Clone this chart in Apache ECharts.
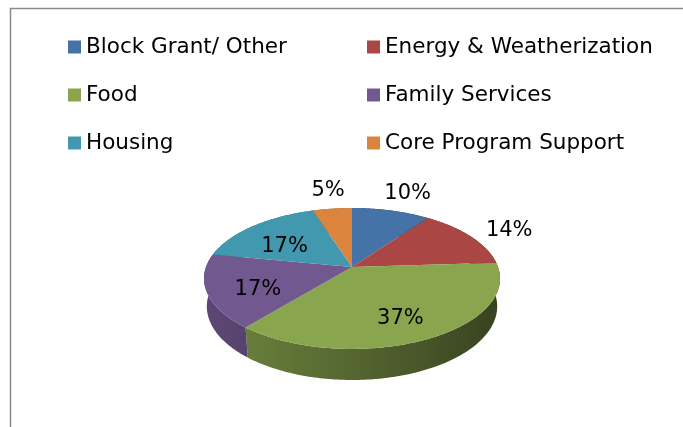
<!DOCTYPE html>
<html>
<head>
<meta charset="utf-8">
<script src="https://cdn.jsdelivr.net/npm/echarts@6/dist/echarts.min.js"></script>
<style>
  html, body { margin: 0; padding: 0; background: #fff; }
  #chart { width: 683px; height: 427px; }
</style>
</head>
<body>
<div id="chart"></div>
<script>
const categories = ['Block Grant/ Other', 'Energy & Weatherization', 'Food', 'Family Services', 'Housing', 'Core Program Support'];
const shares = [10, 14, 37, 17, 17, 5];
const colors = ['#4572A7', '#AA4643', '#89A54E', '#71588F', '#4198AF', '#DB843D'];

// 3d pie: a simple perspective camera looking down at a flat cylinder
const pieCx = 352, pieCy = 267;
const focal = 790, camDist = 5.41, depth = 0.218;
const tilt = 28 * Math.PI / 180;
const ct = Math.cos(tilt), st = Math.sin(tilt);
const FONT = '"DejaVu Sans", "Liberation Sans", sans-serif';

const total = shares.reduce((s, v) => s + v, 0);
const starts = [];
let acc = 0;
shares.forEach(v => { starts.push(acc); acc += v; });

function toAngle(v) { return v / total * 2 * Math.PI; }

// a = clockwise from the far point, y = down into the pie
function project(r, a, y) {
    const x3 = r * Math.sin(a), z3 = r * Math.cos(a);
    const yc = y * ct - z3 * st;
    const zc = camDist + z3 * ct + y * st;
    return [pieCx + focal * x3 / zc, pieCy + focal * yc / zc];
}

function arc(a0, a1, y) {
    const n = Math.max(2, Math.ceil((a1 - a0) / (Math.PI / 180)));
    const pts = [];
    for (let i = 0; i <= n; i++) pts.push(project(1, a0 + (a1 - a0) * i / n, y));
    return pts;
}

function shade(hex, k) {
    const n = parseInt(hex.slice(1), 16);
    const c = [(n >> 16) & 255, (n >> 8) & 255, n & 255].map(v => Math.round(v * k));
    return 'rgb(' + c.join(',') + ')';
}

const pieData = categories.map((name, i) => ({ name: name, value: shares[i], itemStyle: { color: colors[i] } }));

const chart = echarts.init(document.getElementById('chart'));

const legendBase = {
    orient: 'vertical',
    top: 31,
    icon: 'rect',
    itemWidth: 13,
    itemHeight: 13,
    itemGap: 26,
    selectedMode: false,
    textStyle: { fontFamily: FONT, fontSize: 21.5, color: '#000', lineHeight: 22 }
};

const option = {
    animation: false,
    backgroundColor: '#fff',
    legend: [
        Object.assign({ left: 63, data: [categories[0], categories[2], categories[4]] }, legendBase),
        Object.assign({ left: 362, data: [categories[1], categories[3], categories[5]] }, legendBase)
    ],
    graphic: [{
        type: 'rect',
        shape: { x: 10.5, y: 8.5, width: 700, height: 450 },
        style: { fill: 'none', stroke: '#8a8a8a', lineWidth: 1.5 },
        silent: true
    }],
    series: [
        {
            // only feeds the legend
            type: 'pie',
            center: [-200, -200],
            radius: 5,
            label: { show: false },
            silent: true,
            data: pieData
        },
        {
            name: 'side',
            type: 'custom',
            coordinateSystem: 'none',
            z: 2,
            silent: true,
            data: shares,
            renderItem: function (params, api) {
                const i = params.dataIndex;
                const a0 = toAngle(starts[i]), a1 = toAngle(starts[i] + api.value(0));
                const top = arc(a0, a1, 0);
                const bottom = arc(a0, a1, depth).reverse();
                return {
                    type: 'polygon',
                    shape: { points: top.concat(bottom) },
                    style: {
                        fill: new echarts.graphic.LinearGradient(pieCx - 150, 0, pieCx + 150, 0, [
                            { offset: 0, color: shade(colors[i], 0.82) },
                            { offset: 0.5, color: shade(colors[i], 0.62) },
                            { offset: 1, color: shade(colors[i], 0.4) }
                        ], true)
                    }
                };
            }
        },
        {
            name: 'top',
            type: 'custom',
            coordinateSystem: 'none',
            z: 3,
            silent: true,
            data: shares,
            renderItem: function (params, api) {
                const i = params.dataIndex;
                const v = api.value(0);
                const a0 = toAngle(starts[i]), a1 = toAngle(starts[i] + v);
                const mid = (a0 + a1) / 2;
                const pts = [[pieCx, pieCy]].concat(arc(a0, a1, 0));
                let lx, ly;
                if (v >= 15) {
                    [lx, ly] = project(0.66, mid, 0);
                    ly += 7;
                } else {
                    // best-fit outside: push the label box clear of the rim
                    const rim = project(1, mid, 0);
                    let dx = rim[0] - pieCx, dy = rim[1] - pieCy;
                    const len = Math.hypot(dx, dy);
                    dx /= len; dy /= len;
                    const edge = Math.min(Math.abs(dx) > 1e-6 ? 23 / Math.abs(dx) : 1e9,
                                          Math.abs(dy) > 1e-6 ? 9 / Math.abs(dy) : 1e9);
                    const k = edge + 13;
                    lx = rim[0] + dx * k + 3;
                    ly = rim[1] + dy * k + 3;
                }
                return {
                    type: 'group',
                    children: [
                        { type: 'polygon', shape: { points: pts }, style: { fill: colors[i] } },
                        {
                            type: 'text',
                            x: lx, y: ly,
                            z2: 10,
                            style: {
                                text: v + '%',
                                fill: '#000',
                                font: '21px ' + FONT,
                                align: 'center',
                                verticalAlign: 'middle'
                            }
                        }
                    ]
                };
            }
        }
    ]
};

chart.setOption(option);
</script>
</body>
</html>
